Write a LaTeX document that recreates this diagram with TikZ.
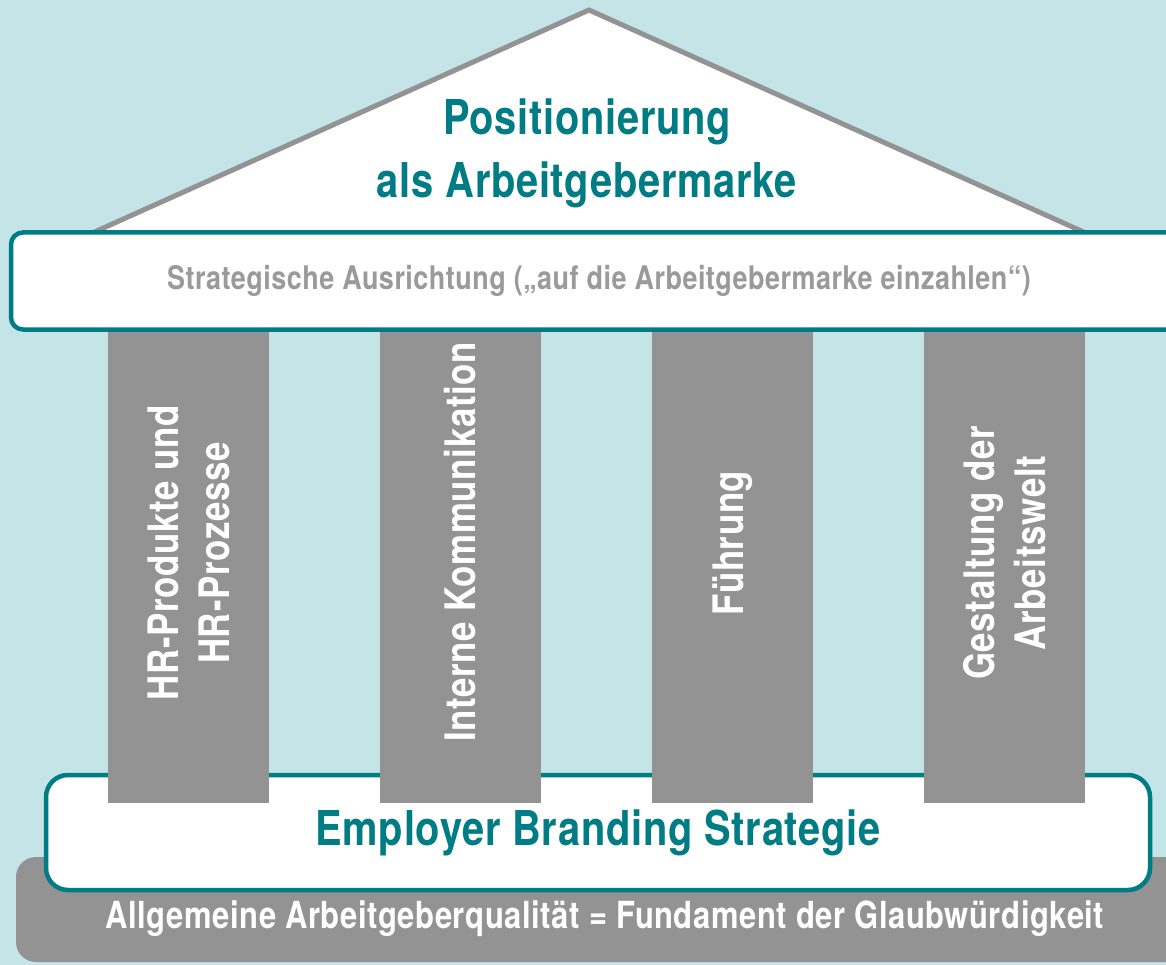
\documentclass[tikz,border=0pt]{standalone}
\usepackage{fontspec}
\setmainfont{TeX Gyre Heros}[FakeStretch=0.83,LetterSpace=1.5]
\definecolor{skyblue}{HTML}{C5E4E8}
\definecolor{tealbrand}{HTML}{007C84}
\definecolor{pillargray}{HTML}{939393}
\definecolor{captiongray}{HTML}{9A9A9A}
\tikzset{
  pillarshape/.style={fill=pillargray},
  pillarlabel/.style={rotate=90,text=white,font=\bfseries\fontsize{42}{51}\selectfont,align=center},
  tealbox/.style={draw=tealbrand,line width=4.5pt,fill=white,rounded corners=#1},
}
\begin{document}
\begin{tikzpicture}[x=1pt,y=-1pt]
    \useasboundingbox (0,0) rectangle (1166,965);
    \clip (0,0) rectangle (1166,965);
    \fill[skyblue] (0,0) rectangle (1166,965);

    %Roof
    \draw[pillargray,line width=5pt,fill=white,line join=miter] (90,234) -- (589,10) -- (1088,234);
    \node[text=tealbrand,font=\bfseries\fontsize{48}{63}\selectfont,align=center] (Title) at (587,153) {Positionierung\\als Arbeitgebermarke};

    %Foundation
    \fill[pillargray,rounded corners=20pt] (16,857) rectangle (1194,962);
    \node[text=white,font=\bfseries\fontsize{37.3}{46}\selectfont] (Fundament) at (605,919) {Allgemeine Arbeitgeberqualität = Fundament der Glaubwürdigkeit};
    \node[tealbox=22pt,minimum width=1104pt,minimum height=115pt,text=tealbrand,font=\bfseries\fontsize{48}{58}\selectfont] (Strategie) at (598,832.5) {Employer Branding Strategie};

    %Pillars
    \fill[pillarshape] (108,330) rectangle (269,803);
    \fill[pillarshape] (380,330) rectangle (541,803);
    \fill[pillarshape] (652,330) rectangle (813,803);
    \fill[pillarshape] (924,330) rectangle (1085,803);
    \node[pillarlabel] (HR) at (188.5,553) {HR-Produkte und\\HR-Prozesse};
    \node[pillarlabel] (Kommunikation) at (460.5,542) {Interne Kommunikation};
    \node[pillarlabel] (Fuehrung) at (732.5,543) {Führung};
    \node[pillarlabel] (Arbeitswelt) at (1004.5,553) {Gestaltung der\\Arbeitswelt};

    %Beam
    \node[tealbox=12pt,minimum width=1176pt,minimum height=97pt,text=captiongray,font=\bfseries\fontsize{32.5}{40}\selectfont] (Ausrichtung) at (599,281) {Strategische Ausrichtung („auf die Arbeitgebermarke einzahlen“)};
  \end{tikzpicture}
\end{document}
